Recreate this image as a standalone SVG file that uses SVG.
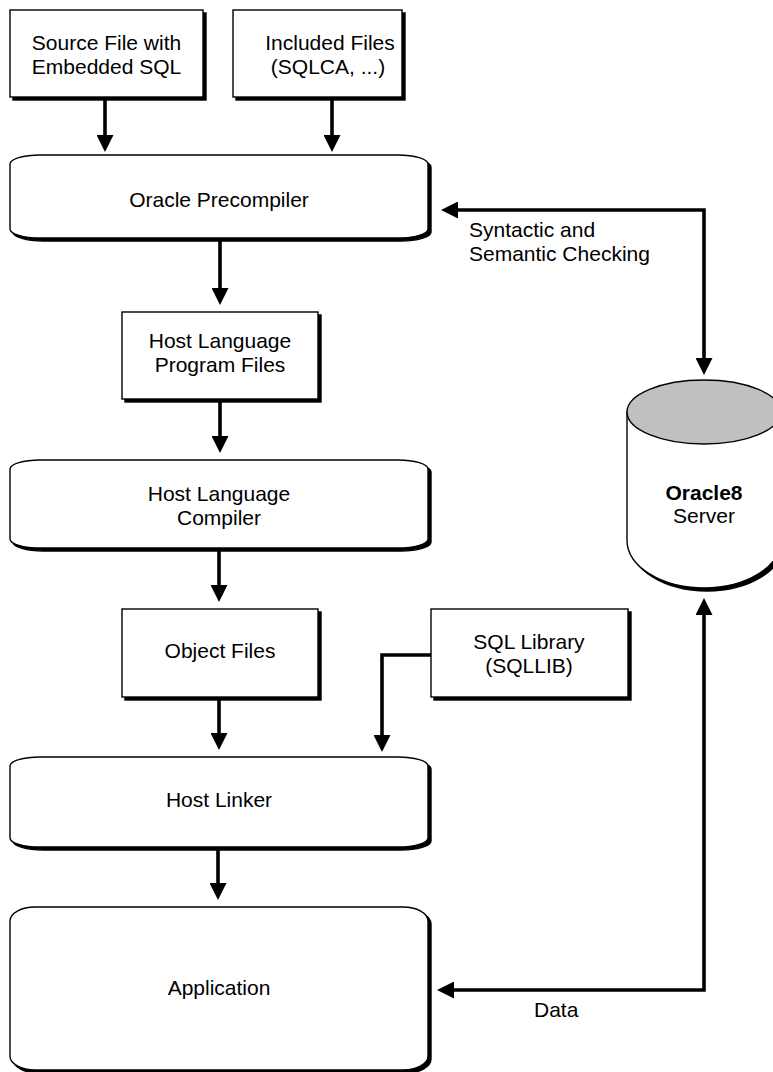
<svg xmlns="http://www.w3.org/2000/svg" width="773" height="1072" viewBox="0 0 773 1072">
<defs>
<style>
.box{fill:#fff;stroke:#000;stroke-width:1.4}
.sh{fill:#000;stroke:#000;stroke-width:1.4}
.t{font-family:"Liberation Sans",Arial,sans-serif;font-size:21px;fill:#000;text-anchor:middle}
.tl{font-family:"Liberation Sans",Arial,sans-serif;font-size:21px;fill:#000}
.c{fill:none;stroke:#000;stroke-width:3.6}
</style>
<marker id="ah" viewBox="0 0 17 17" markerWidth="17" markerHeight="17" refX="7" refY="8.5" orient="auto-start-reverse" markerUnits="userSpaceOnUse">
<path d="M0,0 L17,8.5 L0,17 Z" fill="#000"/>
</marker>
</defs>

<g id="source">
<rect class="sh" x="13" y="13" width="193" height="87"/>
<rect class="box" x="10" y="10" width="193" height="87"/>
<text class="t" x="106.5" y="50">Source File with</text>
<text class="t" x="106.5" y="74">Embedded SQL</text>
</g>

<g id="included">
<rect class="sh" x="236" y="13" width="169" height="87"/>
<rect class="box" x="233" y="10" width="169" height="87"/>
<text class="t" x="330" y="50">Included Files</text>
<text class="t" x="328" y="74">(SQLCA, ...)</text>
</g>

<g id="precompiler">
<path class="sh" transform="translate(3,3)" d="M10,164 A30,9 0 0 1 40,155 H398 A30,9 0 0 1 428,164 V229 A30,9 0 0 1 398,238 H40 A30,9 0 0 1 10,229 Z"/>
<path class="box" d="M10,164 A30,9 0 0 1 40,155 H398 A30,9 0 0 1 428,164 V229 A30,9 0 0 1 398,238 H40 A30,9 0 0 1 10,229 Z"/>
<text class="t" x="219" y="207">Oracle Precompiler</text>
</g>

<g id="hlpf">
<rect class="sh" x="125" y="315" width="196" height="87"/>
<rect class="box" x="122" y="312" width="196" height="87"/>
<text class="t" x="220" y="348">Host Language</text>
<text class="t" x="220" y="372">Program Files</text>
</g>

<g id="compiler">
<path class="sh" transform="translate(3,3)" d="M10,469 A30,9 0 0 1 40,460 H398 A30,9 0 0 1 428,469 V539 A30,9 0 0 1 398,548 H40 A30,9 0 0 1 10,539 Z"/>
<path class="box" d="M10,469 A30,9 0 0 1 40,460 H398 A30,9 0 0 1 428,469 V539 A30,9 0 0 1 398,548 H40 A30,9 0 0 1 10,539 Z"/>
<text class="t" x="219" y="501">Host Language</text>
<text class="t" x="219" y="525">Compiler</text>
</g>

<g id="object">
<rect class="sh" x="125" y="612" width="196" height="88"/>
<rect class="box" x="122" y="609" width="196" height="88"/>
<text class="t" x="220" y="658">Object Files</text>
</g>

<g id="sqllib">
<rect class="sh" x="434" y="612" width="197" height="88"/>
<rect class="box" x="431" y="609" width="197" height="88"/>
<text class="t" x="529" y="649">SQL Library</text>
<text class="t" x="529" y="673">(SQLLIB)</text>
</g>

<g id="linker">
<path class="sh" transform="translate(3,3)" d="M10,766 A30,9 0 0 1 40,757 H398 A30,9 0 0 1 428,766 V838 A30,9 0 0 1 398,847 H40 A30,9 0 0 1 10,838 Z"/>
<path class="box" d="M10,766 A30,9 0 0 1 40,757 H398 A30,9 0 0 1 428,766 V838 A30,9 0 0 1 398,847 H40 A30,9 0 0 1 10,838 Z"/>
<text class="t" x="219" y="807">Host Linker</text>
</g>

<g id="application">
<path class="sh" transform="translate(3,3)" d="M10,921 A25,14 0 0 1 35,907 H403 A25,14 0 0 1 428,921 V1056 A25,14 0 0 1 403,1070 H35 A25,14 0 0 1 10,1056 Z"/>
<path class="box" d="M10,921 A25,14 0 0 1 35,907 H403 A25,14 0 0 1 428,921 V1056 A25,14 0 0 1 403,1070 H35 A25,14 0 0 1 10,1056 Z"/>
<text class="t" x="219" y="995">Application</text>
</g>

<g id="server">
<path class="sh" transform="translate(3,3)" d="M627,412 V540 A77,48 0 0 0 781,540 V412 Z"/>
<path class="box" d="M627,412 V540 A77,48 0 0 0 781,540 V412 Z"/>
<ellipse cx="704" cy="412" rx="77" ry="32" fill="#c0c0c0" stroke="#000" stroke-width="1.4"/>
<text class="t" x="704" y="500" font-weight="bold">Oracle8</text>
<text class="t" x="704" y="523">Server</text>
</g>

<g id="connectors">
<path class="c" d="M105,100 V142" marker-end="url(#ah)"/>
<path class="c" d="M332,100 V142" marker-end="url(#ah)"/>
<path class="c" d="M220,241 V295" marker-end="url(#ah)"/>
<path class="c" d="M220,402 V443" marker-end="url(#ah)"/>
<path class="c" d="M219,551 V592" marker-end="url(#ah)"/>
<path class="c" d="M219,700 V740" marker-end="url(#ah)"/>
<path class="c" d="M431,655 H382 V742" marker-end="url(#ah)"/>
<path class="c" d="M218,850 V890" marker-end="url(#ah)"/>
<path class="c" d="M451,210 H704 V365" marker-start="url(#ah)" marker-end="url(#ah)"/>
<path class="c" d="M447,990 H704 V608" marker-start="url(#ah)" marker-end="url(#ah)"/>
</g>

<g id="labels">
<text class="tl" x="469" y="237">Syntactic and</text>
<text class="tl" x="469" y="261">Semantic Checking</text>
<text class="tl" x="534" y="1017">Data</text>
</g>
</svg>
